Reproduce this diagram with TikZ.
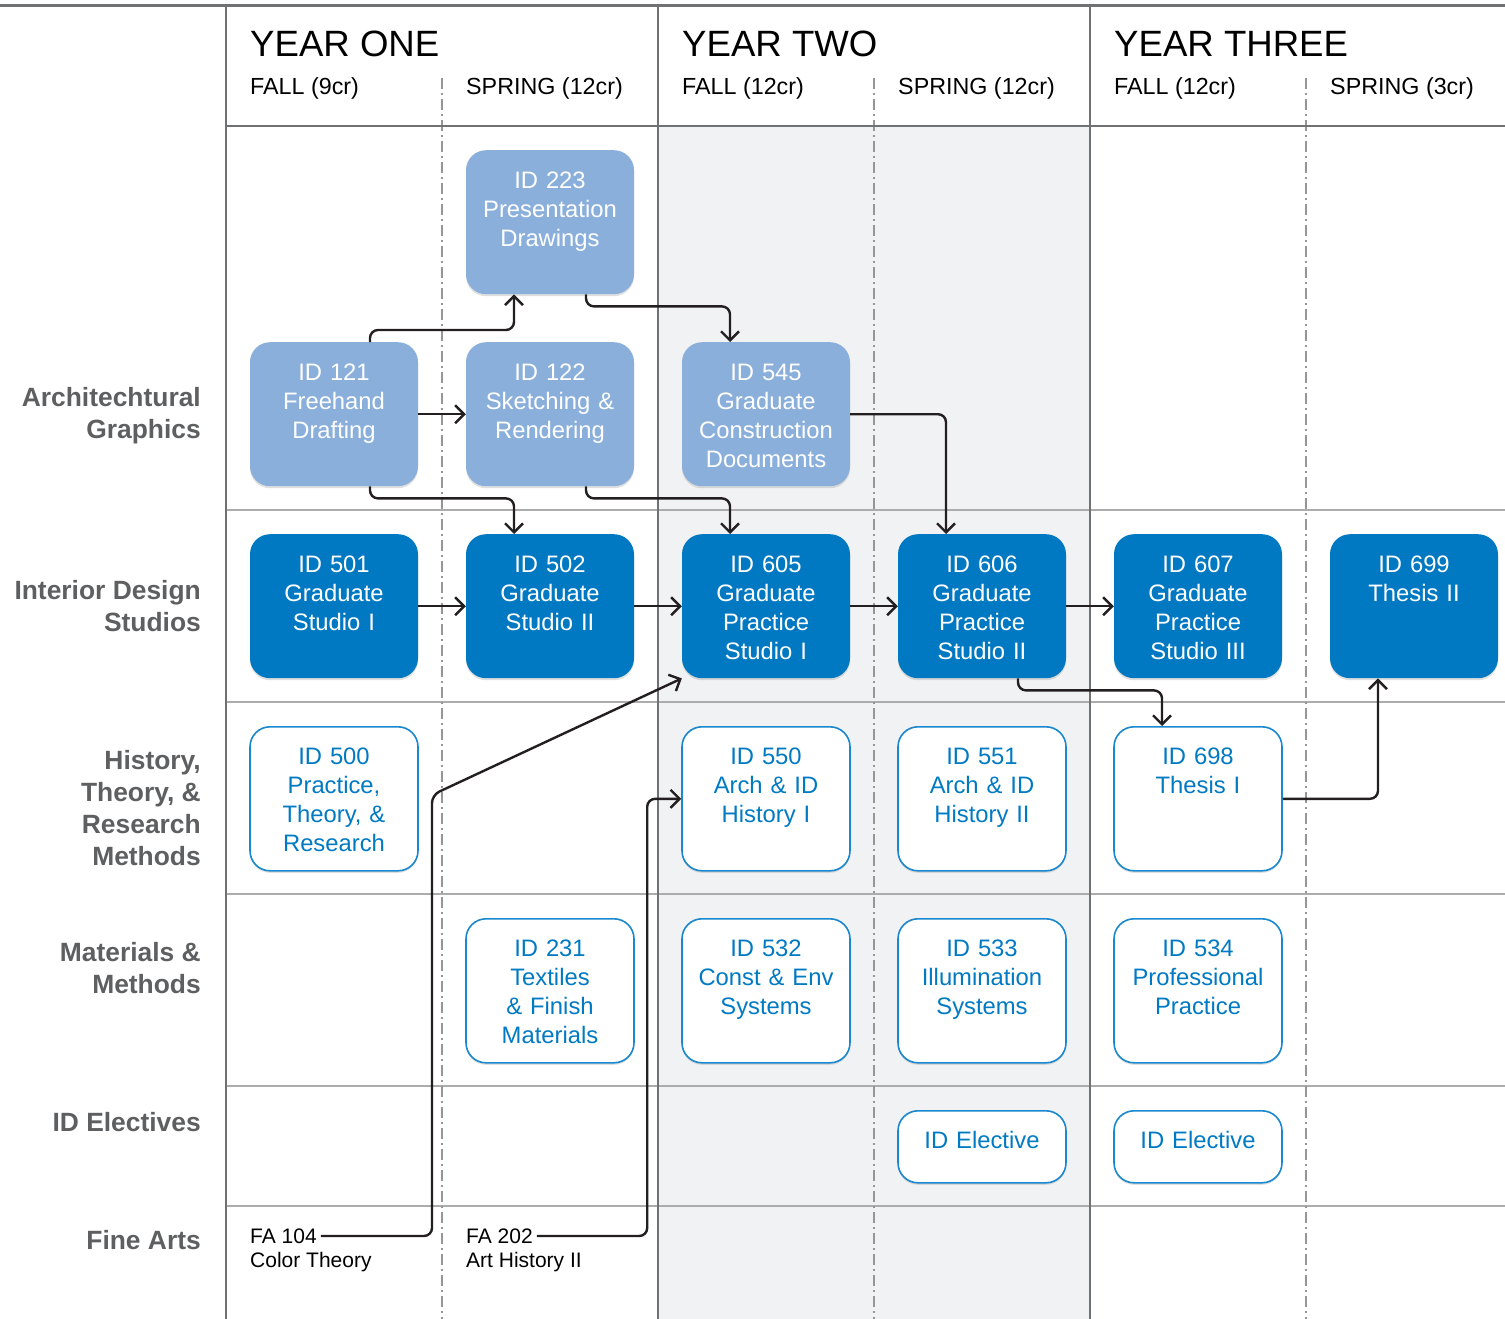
\documentclass[tikz,border=0pt]{standalone}
\usepackage{fontspec}
\setmainfont{Liberation Sans}
\usepackage{xcolor}
\usetikzlibrary{positioning,arrows.meta,calc,shadows}

\definecolor{graphicsblue}{RGB}{138,175,219}
\definecolor{studioblue}{RGB}{0,121,194}
\definecolor{edgeblue}{RGB}{26,136,206}
\definecolor{courseblue}{RGB}{0,122,195}
\definecolor{shadegray}{RGB}{241,242,244}
\definecolor{yeargray}{RGB}{112,113,115}
\definecolor{rowgray}{RGB}{172,172,172}
\definecolor{semgray}{RGB}{150,150,150}
\definecolor{labelgray}{RGB}{94,95,97}
\definecolor{flowblack}{RGB}{35,31,32}

\begin{document}
\begin{tikzpicture}[x=1pt,y=-1pt,
  cbox/.style={rounded corners=20pt, minimum width=168pt, inner sep=0pt,
    text width=160pt, align=center, font=\fontsize{23.8}{29}\selectfont,
    text height=38pt, text depth=106pt, anchor=north,
    drop shadow={shadow xshift=0pt, shadow yshift=-2pt, opacity=.25}},
  graphicsbox/.style={cbox, fill=graphicsblue, text=white},
  studiobox/.style={cbox, fill=studioblue, text=white},
  plainbox/.style={cbox, fill=white, draw=edgeblue, line width=1.6pt, text=courseblue},
  electivebox/.style={plainbox, text depth=34pt},
  flow/.style={draw=flowblack, line width=2.4pt, rounded corners=8pt,
    -{Straight Barb[length=9pt,width=18pt]}},
  rowlabel/.style={anchor=east, align=right, inner sep=0pt, text=labelgray,
    font=\fontsize{26.4}{32}\selectfont\bfseries},
  yearlabel/.style={anchor=base west, inner sep=0pt, font=\fontsize{36.6}{40}\selectfont},
  semlabel/.style={anchor=base west, inner sep=0pt, font=\fontsize{23.3}{28}\selectfont},
  fatext/.style={anchor=west, inner xsep=4pt, inner ysep=0pt, font=\fontsize{21}{25}\selectfont}]

\useasboundingbox (0,0) rectangle (1505,1319);

% Year two shading
\fill[shadegray] (658,126) rectangle (1090,1319);

% Row lines
\draw[rowgray, line width=2pt] (226,510) -- (1505,510);
\draw[rowgray, line width=2pt] (226,702) -- (1505,702);
\draw[rowgray, line width=2pt] (226,894) -- (1505,894);
\draw[rowgray, line width=2pt] (226,1086) -- (1505,1086);
\draw[rowgray, line width=2pt] (226,1206) -- (1505,1206);

% Semester lines
\draw[semgray, line width=1.6pt, dash pattern=on 11pt off 4pt on 2pt off 4pt] (442,78) -- (442,1319);
\draw[semgray, line width=1.6pt, dash pattern=on 11pt off 4pt on 2pt off 4pt] (874,78) -- (874,1319);
\draw[semgray, line width=1.6pt, dash pattern=on 11pt off 4pt on 2pt off 4pt] (1306,78) -- (1306,1319);

% Year lines
\draw[yeargray, line width=3pt] (0,6) -- (1505,6);
\draw[yeargray, line width=2.5pt] (226,126) -- (1505,126);
\draw[yeargray, line width=2.5pt] (226,6) -- (226,1319);
\draw[yeargray, line width=2.5pt] (658,6) -- (658,1319);
\draw[yeargray, line width=2.5pt] (1090,6) -- (1090,1319);

% Headers
\node[yearlabel] (y1) at (250,57) {YEAR ONE};
\node[yearlabel] (y2) at (682,57) {YEAR TWO};
\node[yearlabel] (y3) at (1114,57) {YEAR THREE};
\node[semlabel] (s1) at (250,95) {FALL (9cr)};
\node[semlabel] (s2) at (466,95) {SPRING (12cr)};
\node[semlabel] (s3) at (682,95) {FALL (12cr)};
\node[semlabel] (s4) at (898,95) {SPRING (12cr)};
\node[semlabel] (s5) at (1114,95) {FALL (12cr)};
\node[semlabel] (s6) at (1330,95) {SPRING (3cr)};

% Row labels
\node[rowlabel] (rarch) at (201,416) {Architechtural\\Graphics};
\node[rowlabel] (rstudio) at (201,606) {Interior Design\\Studios};
\node[rowlabel] (rhist) at (201,808) {History,\\Theory, \&\\Research\\Methods};
\node[rowlabel] (rmat) at (201,968) {Materials \&\\Methods};
\node[rowlabel] (relec) at (201,1122) {ID Electives};
\node[rowlabel] (rfine) at (201,1240) {Fine Arts};

% Architectural graphics
\node[graphicsbox] (id223) at (550,150) {ID 223\\Presentation\\Drawings};
\node[graphicsbox] (id121) at (334,342) {ID 121\\Freehand\\Drafting};
\node[graphicsbox] (id122) at (550,342) {ID 122\\Sketching \&\\Rendering};
\node[graphicsbox] (id545) at (766,342) {ID 545\\Graduate\\Construction\\Documents};

% Studios
\node[studiobox] (id501) at (334,534) {ID 501\\Graduate\\Studio I};
\node[studiobox] (id502) at (550,534) {ID 502\\Graduate\\Studio II};
\node[studiobox] (id605) at (766,534) {ID 605\\Graduate\\Practice\\Studio I};
\node[studiobox] (id606) at (982,534) {ID 606\\Graduate\\Practice\\Studio II};
\node[studiobox] (id607) at (1198,534) {ID 607\\Graduate\\Practice\\Studio III};
\node[studiobox] (id699) at (1414,534) {ID 699\\Thesis II};

% History, theory and research
\node[plainbox] (id500) at (334,726) {ID 500\\Practice,\\Theory, \&\\Research};
\node[plainbox] (id550) at (766,726) {ID 550\\Arch \& ID\\History I};
\node[plainbox] (id551) at (982,726) {ID 551\\Arch \& ID\\History II};
\node[plainbox] (id698) at (1198,726) {ID 698\\Thesis I};

% Materials and methods
\node[plainbox] (id231) at (550,918) {ID 231\\Textiles\\\& Finish\\Materials};
\node[plainbox] (id532) at (766,918) {ID 532\\Const \& Env\\Systems};
\node[plainbox] (id533) at (982,918) {ID 533\\Illumination\\Systems};
\node[plainbox] (id534) at (1198,918) {ID 534\\Professional\\Practice};

% Electives
\node[electivebox] (elec1) at (982,1110) {ID Elective};
\node[electivebox] (elec2) at (1198,1110) {ID Elective};

% Fine arts
\node[fatext] (fa104) at (246,1236) {FA 104};
\node[fatext] (fa104b) at (246,1262) {Color Theory};
\node[fatext] (fa202) at (462,1236) {FA 202};
\node[fatext] (fa202b) at (462,1262) {Art History II};

% Prerequisites
\draw[flow] ([xshift=36pt]id121.north) -- ++(0,-12) -| ([xshift=-36pt]id223.south);
\draw[flow] (id121.east) -- (id122.west);
\draw[flow] ([xshift=36pt]id121.south) -- ++(0,12) -| ([xshift=-36pt]id502.north);
\draw[flow] ([xshift=36pt]id122.south) -- ++(0,12) -| ([xshift=-36pt]id605.north);
\draw[flow] ([xshift=36pt]id223.south) -- ++(0,12) -| ([xshift=-36pt]id545.north);
\draw[flow] (id545.east) -| ([xshift=-36pt]id606.north);
\draw[flow] (id501.east) -- (id502.west);
\draw[flow] (id502.east) -- (id605.west);
\draw[flow] (id605.east) -- (id606.west);
\draw[flow] (id606.east) -- (id607.west);
\draw[flow] ([xshift=36pt]id606.south) -- ++(0,12) -| ([xshift=-36pt]id698.north);
\draw[flow] (id698.east) -| ([xshift=-36pt]id699.south);
\draw[flow] (fa104.east) -| (432,795) -- (id605.south west);
\draw[flow] (fa202.east) -| ([xshift=-34pt]id550.west) -- (id550.west);
\end{tikzpicture}
\end{document}
